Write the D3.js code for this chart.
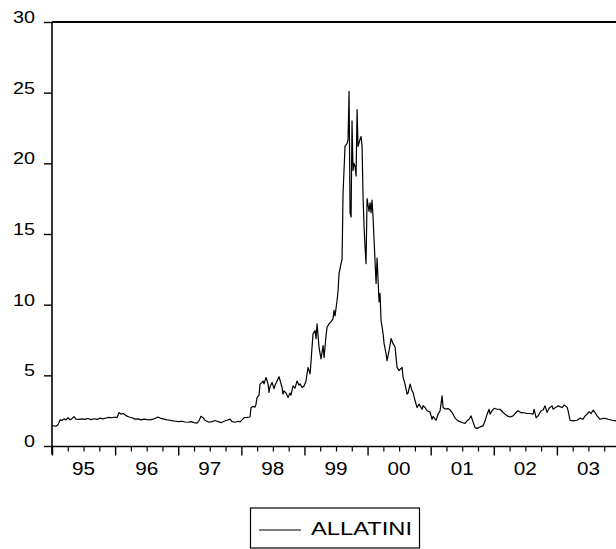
<!DOCTYPE html>
<html>
<head>
<meta charset="utf-8">
<script src="https://d3js.org/d3.v7.min.js"></script>
<style>
  body { margin: 0; background: #fff; }
  text { font-family: "Liberation Sans", Arial, sans-serif; fill: #000; }
</style>
</head>
<body>
<div id="chart"></div>
<script>
// time in decimal years, value of the series
var years = [
  1995.000, 1995.032, 1995.063, 1995.095, 1995.127, 1995.158, 1995.190, 1995.222, 1995.254, 1995.285,
  1995.317, 1995.349, 1995.380, 1995.428, 1995.475, 1995.523, 1995.571, 1995.618, 1995.666, 1995.713,
  1995.761, 1995.808, 1995.856, 1995.903, 1995.951, 1995.998, 1996.030, 1996.062, 1996.094, 1996.125,
  1996.173, 1996.220, 1996.268, 1996.315, 1996.363, 1996.410, 1996.458, 1996.506, 1996.553, 1996.601,
  1996.648, 1996.680, 1996.727, 1996.775, 1996.823, 1996.870, 1996.918, 1996.965, 1997.013, 1997.060,
  1997.108, 1997.155, 1997.203, 1997.250, 1997.298, 1997.330, 1997.361, 1997.393, 1997.425, 1997.456,
  1997.488, 1997.536, 1997.583, 1997.631, 1997.678, 1997.726, 1997.773, 1997.821, 1997.853, 1997.900,
  1997.948, 1997.979, 1998.011, 1998.043, 1998.090, 1998.138, 1998.154, 1998.185, 1998.217, 1998.233,
  1998.249, 1998.281, 1998.296, 1998.328, 1998.344, 1998.360, 1998.392, 1998.423, 1998.439, 1998.455,
  1998.487, 1998.518, 1998.534, 1998.566, 1998.598, 1998.629, 1998.645, 1998.661, 1998.677, 1998.708,
  1998.740, 1998.772, 1998.788, 1998.819, 1998.851, 1998.883, 1998.914, 1998.930, 1998.962, 1998.994,
  1999.025, 1999.041, 1999.057, 1999.089, 1999.105, 1999.120, 1999.136, 1999.168, 1999.184, 1999.200,
  1999.216, 1999.231, 1999.263, 1999.295, 1999.311, 1999.342, 1999.358, 1999.390, 1999.422, 1999.453,
  1999.469, 1999.485, 1999.517, 1999.533, 1999.548, 1999.580, 1999.596, 1999.612, 1999.643, 1999.675,
  1999.691, 1999.707, 1999.723, 1999.739, 1999.754, 1999.770, 1999.786, 1999.802, 1999.818, 1999.834,
  1999.849, 1999.881, 1999.897, 1999.913, 1999.929, 1999.945, 1999.960, 1999.976, 1999.992, 2000.024,
  2000.040, 2000.055, 2000.071, 2000.087, 2000.103, 2000.135, 2000.151, 2000.182, 2000.198, 2000.214,
  2000.246, 2000.262, 2000.293, 2000.309, 2000.341, 2000.373, 2000.404, 2000.436, 2000.452, 2000.468,
  2000.499, 2000.547, 2000.563, 2000.594, 2000.626, 2000.642, 2000.674, 2000.705, 2000.721, 2000.753,
  2000.785, 2000.816, 2000.864, 2000.880, 2000.911, 2000.943, 2000.991, 2001.022, 2001.038, 2001.086,
  2001.117, 2001.149, 2001.181, 2001.197, 2001.228, 2001.276, 2001.308, 2001.355, 2001.387, 2001.434,
  2001.498, 2001.545, 2001.577, 2001.609, 2001.640, 2001.672, 2001.704, 2001.735, 2001.783, 2001.830,
  2001.862, 2001.894, 2001.926, 2001.941, 2001.973, 2002.005, 2002.052, 2002.100, 2002.147, 2002.211,
  2002.258, 2002.306, 2002.354, 2002.385, 2002.433, 2002.464, 2002.528, 2002.575, 2002.623, 2002.639,
  2002.670, 2002.702, 2002.750, 2002.781, 2002.813, 2002.845, 2002.876, 2002.924, 2002.940, 2002.987,
  2003.019, 2003.082, 2003.114, 2003.162, 2003.178, 2003.209, 2003.257, 2003.320, 2003.368, 2003.415,
  2003.447, 2003.479, 2003.510, 2003.542, 2003.574, 2003.605, 2003.637, 2003.685, 2003.732, 2003.764,
  2003.811, 2003.875, 2003.938
];
var values = [
  1.45, 1.42, 1.40, 1.50, 1.85, 1.80, 1.92, 1.85, 2.00, 1.85,
  1.95, 2.08, 1.90, 1.88, 1.92, 1.88, 1.95, 1.87, 1.93, 1.88,
  1.97, 1.92, 1.98, 2.02, 2.00, 2.05, 2.00, 2.37, 2.25, 2.30,
  2.15, 2.05, 2.00, 1.90, 1.92, 1.85, 1.90, 1.87, 1.85, 1.90,
  1.98, 2.05, 1.95, 1.90, 1.85, 1.82, 1.78, 1.75, 1.72, 1.75,
  1.70, 1.68, 1.72, 1.65, 1.62, 1.80, 2.10, 2.00, 1.82, 1.75,
  1.68, 1.72, 1.80, 1.72, 1.65, 1.75, 1.82, 1.90, 1.72, 1.68,
  1.75, 1.70, 1.85, 2.00, 2.02, 2.05, 2.72, 2.80, 2.75, 2.96,
  3.43, 3.60, 4.38, 4.50, 4.60, 4.40, 4.85, 4.40, 3.79, 4.20,
  4.50, 4.05, 4.30, 4.60, 4.90, 4.40, 4.14, 3.67, 3.90, 3.75,
  3.43, 3.75, 3.60, 4.26, 4.10, 4.60, 4.30, 4.40, 4.14, 4.25,
  4.60, 5.10, 5.56, 5.10, 6.00, 6.98, 7.93, 8.17, 7.60, 8.64,
  7.80, 6.98, 6.16, 7.10, 6.25, 7.80, 8.40, 8.64, 8.80, 9.00,
  9.60, 9.20, 10.3, 11.0, 12.2, 12.9, 13.2, 17.9, 21.2, 21.4,
  21.7, 25.1, 16.5, 16.2, 23.0, 19.5, 20.0, 19.8, 19.1, 23.8,
  21.2, 21.7, 21.9, 21.2, 17.6, 15.5, 14.1, 12.9, 17.5, 16.6,
  17.2, 16.5, 17.4, 16.2, 14.6, 11.5, 13.3, 10.2, 10.8, 8.88,
  7.95, 7.24, 6.53, 6.04, 6.75, 7.60, 7.24, 7.00, 6.27, 5.56,
  5.33, 5.56, 4.85, 4.38, 3.67, 3.75, 4.38, 3.90, 3.80, 3.20,
  2.72, 2.96, 2.60, 2.85, 2.72, 2.49, 2.40, 1.89, 2.10, 1.82,
  2.25, 2.49, 3.55, 2.72, 2.62, 2.65, 2.55, 2.25, 1.97, 1.78,
  1.66, 1.60, 1.78, 1.89, 2.13, 1.70, 1.30, 1.25, 1.35, 1.42,
  1.78, 2.25, 2.60, 2.25, 2.50, 2.67, 2.60, 2.60, 2.37, 2.13,
  2.05, 2.13, 2.37, 2.49, 2.35, 2.37, 2.30, 2.30, 2.25, 2.60,
  2.00, 2.13, 2.49, 2.55, 2.84, 2.37, 2.67, 2.84, 2.60, 2.75,
  2.84, 2.72, 2.90, 2.75, 2.49, 1.82, 1.78, 1.82, 1.97, 1.90,
  2.13, 2.25, 2.43, 2.30, 2.53, 2.37, 2.13, 1.89, 1.95, 1.95,
  1.89, 1.82, 1.78
];
var yTicks = [0, 5, 10, 15, 20, 25, 30];
var yearTicks = [1995, 1996, 1997, 1998, 1999, 2000, 2001, 2002, 2003, 2004];
var yearLabels = ["95", "96", "97", "98", "99", "00", "01", "02", "03"];
var seriesName = "ALLATINI";

var width = 616, height = 549;
var plotLeft = 52, plotTop = 22, plotRight = 620, plotBottom = 446;

var svg = d3.select("#chart")
    .append("svg")
    .attr("width", width)
    .attr("height", height);

var x = d3.scaleLinear()
    .domain([1995, 2004])
    .range([plotLeft, plotRight]);
var y = d3.scaleLinear()
    .domain([0, 30])
    .range([plotBottom, plotTop]);

// 数据线
svg.append("clipPath").attr("id", "plotClip")
    .append("rect")
    .attr("x", plotLeft).attr("y", plotTop - 2)
    .attr("width", plotRight - plotLeft).attr("height", plotBottom - plotTop + 2);

var line = d3.line()
    .x((d, i) => x(years[i]))
    .y(d => y(d));

svg.append("path")
    .datum(values)
    .attr("clip-path", "url(#plotClip)")
    .attr("d", line)
    .attr("fill", "none")
    .attr("stroke", "#000")
    .attr("stroke-width", 1.2)
    .attr("stroke-linejoin", "round");

// 边框
svg.append("line")
    .attr("x1", plotLeft).attr("x2", width)
    .attr("y1", plotTop).attr("y2", plotTop)
    .attr("stroke", "#000").attr("stroke-width", 2);
svg.append("line")
    .attr("x1", plotLeft).attr("x2", plotLeft)
    .attr("y1", plotTop).attr("y2", plotBottom + 8.5)
    .attr("stroke", "#000").attr("stroke-width", 1.6);
svg.append("line")
    .attr("x1", plotLeft).attr("x2", width)
    .attr("y1", plotBottom + 0.5).attr("y2", plotBottom + 0.5)
    .attr("stroke", "#000").attr("stroke-width", 1.6);

// y 轴
var yAxis = d3.axisLeft(y)
    .tickValues(yTicks)
    .tickSize(8)
    .tickFormat("");
svg.append("g")
    .attr("transform", translate(plotLeft, 0))
    .call(yAxis)
    .call(g => g.select(".domain").remove())
    .call(g => g.selectAll(".tick line").attr("stroke-width", 1.4));

svg.append("g")
    .selectAll("text")
    .data(yTicks)
    .enter()
    .append("text")
    .attr("x", 35)
    .attr("y", d => y(d) + 1)
    .attr("text-anchor", "end")
    .attr("font-size", 17)
    .attr("textLength", d => String(d).length * 11)
    .attr("lengthAdjust", "spacingAndGlyphs")
    .text(d => d);

// x 轴
var quarters = d3.range(1995, 2004.01, 0.25).filter(q => q % 1 !== 0);
var xMajor = d3.axisBottom(x)
    .tickValues(yearTicks)
    .tickSize(9)
    .tickFormat("");
var xMinor = d3.axisBottom(x)
    .tickValues(quarters)
    .tickSize(5)
    .tickFormat("");
svg.append("g")
    .attr("transform", translate(0, plotBottom + 0.5))
    .call(xMajor)
    .call(g => g.select(".domain").remove())
    .call(g => g.selectAll(".tick line").attr("stroke-width", 1.4));
svg.append("g")
    .attr("transform", translate(0, plotBottom + 0.5))
    .call(xMinor)
    .call(g => g.select(".domain").remove())
    .call(g => g.selectAll(".tick line").attr("stroke-width", 1.2));

svg.append("g")
    .selectAll("text")
    .data(yearLabels)
    .enter()
    .append("text")
    .attr("x", (d, i) => x(1995 + i + 0.5))
    .attr("y", 475)
    .attr("text-anchor", "middle")
    .attr("font-size", 17.5)
    .attr("textLength", 23)
    .attr("lengthAdjust", "spacingAndGlyphs")
    .text(d => d);

// 图例
var legend = svg.append("g").attr("transform", translate(250, 508));
legend.append("rect")
    .attr("x", 0.5).attr("y", 0)
    .attr("width", 169).attr("height", 40)
    .attr("fill", "none")
    .attr("stroke", "#000")
    .attr("stroke-width", 1.2);
legend.append("line")
    .attr("x1", 9).attr("x2", 51)
    .attr("y1", 22).attr("y2", 22)
    .attr("stroke", "#000")
    .attr("stroke-width", 1.2);
legend.append("text")
    .attr("x", 61)
    .attr("y", 26.5)
    .attr("font-size", 19)
    .attr("textLength", 101)
    .attr("lengthAdjust", "spacingAndGlyphs")
    .text(seriesName);

function translate(x, y) {
    return `translate(${x}, ${y})`;
}
</script>
</body>
</html>
